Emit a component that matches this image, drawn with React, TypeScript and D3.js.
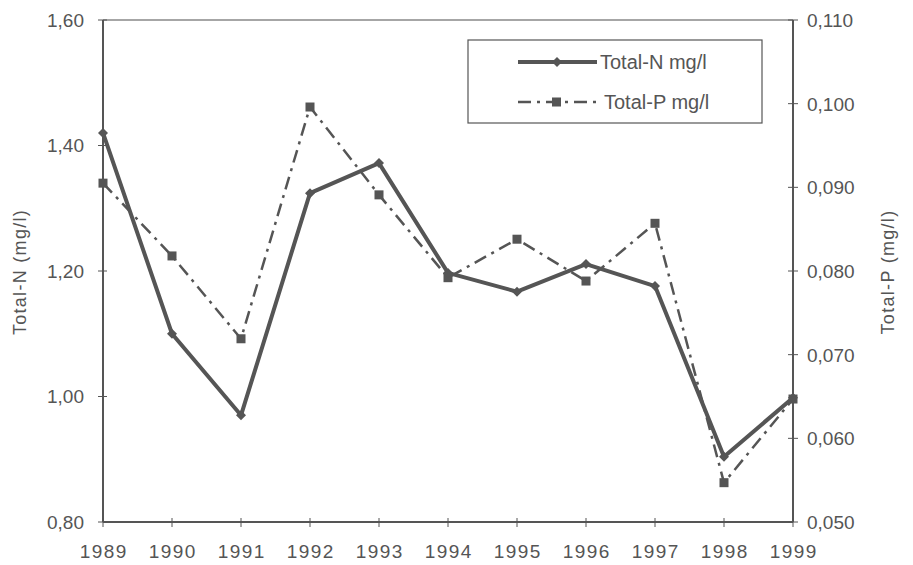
import React from "react";
import * as d3 from "d3";

const years = [1989, 1990, 1991, 1992, 1993, 1994, 1995, 1996, 1997, 1998, 1999];
const totalN = [1.42, 1.1, 0.97, 1.324, 1.372, 1.197, 1.167, 1.211, 1.176, 0.904, 0.998];
const totalP = [0.0905, 0.0818, 0.0719, 0.0996, 0.0891, 0.0792, 0.0838, 0.0788, 0.0857, 0.0547, 0.0647];
const leftTicks = [0.8, 1.0, 1.2, 1.4, 1.6];
const rightTicks = [0.05, 0.06, 0.07, 0.08, 0.09, 0.1, 0.11];

const W = 913, H = 565;
const L = 103, R = 793, T = 20, B = 522;
const C = "#555";
const FONT = "'Liberation Sans', Arial, sans-serif";

export default function App() {
  const x = d3.scaleLinear().domain([1989, 1999]).range([L, R]);
  const yN = d3.scaleLinear().domain([0.8, 1.6]).range([B, T]);
  const yP = d3.scaleLinear().domain([0.05, 0.11]).range([B, T]);
  const lineN = d3.line<number>().x((_, i) => x(years[i])).y((d) => yN(d));
  const lineP = d3.line<number>().x((_, i) => x(years[i])).y((d) => yP(d));
  const fmt = (d: number, n: number) => d.toFixed(n).replace(".", ",");
  const diamond = (cx: number, cy: number, s: number) =>
    `M${cx},${cy - s}L${cx + s},${cy}L${cx},${cy + s}L${cx - s},${cy}Z`;

  return (
    <svg width={W} height={H} style={{ position: "absolute", left: 0, top: 0, background: "#fff" }} fontFamily={FONT}>
      <rect x={0} y={0} width={W} height={H} fill="#fff" />
      {/* frame */}
      <line x1={L} y1={T} x2={R} y2={T} stroke="#888" strokeWidth={1.5} />
      <line x1={L} y1={T} x2={L} y2={B} stroke={C} strokeWidth={2} />
      <line x1={R} y1={T} x2={R} y2={B} stroke={C} strokeWidth={2} />
      <line x1={L} y1={B} x2={R} y2={B} stroke={C} strokeWidth={2} />
      {/* left ticks */}
      {leftTicks.map((t) => (
        <g key={"l" + t}>
          <line x1={L - 5} x2={L + 4} y1={yN(t)} y2={yN(t)} stroke={C} strokeWidth={1} />
          <text x={84} y={yN(t)} dy="0.36em" textAnchor="end" fontSize={19} fill={C}>{fmt(t, 2)}</text>
        </g>
      ))}
      {rightTicks.map((t) => (
        <g key={"r" + t}>
          <line x1={R - 5} x2={R + 5} y1={yP(t)} y2={yP(t)} stroke={C} strokeWidth={1} />
          <text x={807} y={yP(t)} dy="0.36em" textAnchor="start" fontSize={19} fill={C}>{fmt(t, 3)}</text>
        </g>
      ))}
      {years.map((yr) => (
        <g key={"x" + yr}>
          <line x1={x(yr)} x2={x(yr)} y1={B - 4} y2={B + 5} stroke={C} strokeWidth={1} />
          <text x={x(yr) + 0.8} y={558} textAnchor="middle" fontSize={19} letterSpacing={1.5} fill={C}>{yr}</text>
        </g>
      ))}
      <text transform={`translate(26,272) rotate(-90)`} textAnchor="middle" fontSize={18} letterSpacing={1.3} fill={C}>Total-N (mg/l)</text>
      <text transform={`translate(894,272) rotate(-90)`} textAnchor="middle" fontSize={18} letterSpacing={1.3} fill={C}>Total-P (mg/l)</text>
      {/* series P */}
      <path d={lineP(totalP) || ""} fill="none" stroke={C} strokeWidth={2.5} strokeDasharray="13,6,3,6" />
      {totalP.map((v, i) => (
        <rect key={"p" + i} x={x(years[i]) - 4.5} y={yP(v) - 4.5} width={9} height={9} fill={C} />
      ))}
      {/* series N */}
      <path d={lineN(totalN) || ""} fill="none" stroke={C} strokeWidth={4} strokeLinejoin="round" />
      {totalN.map((v, i) => (
        <path key={"n" + i} d={diamond(x(years[i]), yN(v), 5)} fill={C} />
      ))}
      {/* legend */}
      <rect x={468} y={40} width={294} height={83} fill="#fff" stroke={C} strokeWidth={1.2} />
      <line x1={518} x2={597} y1={62} y2={62} stroke={C} strokeWidth={4} />
      <path d={diamond(557, 62, 5)} fill={C} />
      <text x={600} y={62} dy="0.36em" fontSize={20} fill={C}>Total-N mg/l</text>
      <line x1={518} x2={602} y1={102} y2={102} stroke={C} strokeWidth={2.5} strokeDasharray="13,6,3,6" />
      <rect x={552} y={97.5} width={9} height={9} fill={C} />
      <text x={604} y={102} dy="0.36em" fontSize={20} fill={C}>Total-P mg/l</text>
    </svg>
  );
}
